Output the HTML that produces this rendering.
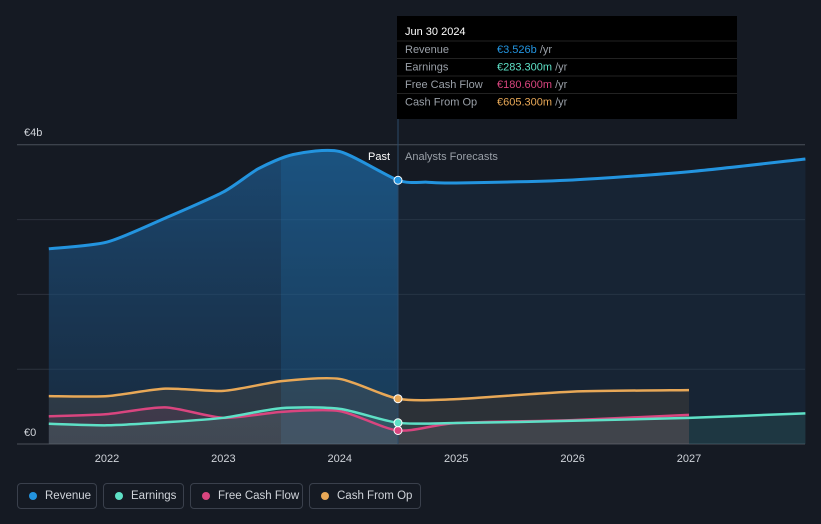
<!DOCTYPE html>
<html><head><meta charset="utf-8"><style>
body{margin:0;background:#151a23;width:821px;height:524px;overflow:hidden;font-family:"Liberation Sans",sans-serif;}
svg{position:absolute;left:0;top:0}
.leg{position:absolute;top:483px;height:26px;border:1px solid #3a404c;border-radius:4px;color:#d0d4da;font-size:11.5px;line-height:24px;box-sizing:border-box;padding-left:27px;white-space:nowrap}
.leg i{position:absolute;left:11px;top:8px;width:8px;height:8px;border-radius:50%}
</style></head><body>
<svg id="c" width="821" height="524">
<defs>
<clipPath id="pastClip"><rect x="0" y="0" width="398" height="524"/></clipPath>
<clipPath id="hiClip"><rect x="281" y="0" width="117" height="524"/></clipPath>
<clipPath id="futClip"><rect x="398" y="0" width="500" height="524"/></clipPath>
<linearGradient id="g" x1="0" y1="0" x2="0" y2="1"><stop offset="0" stop-color="#1e5c92" stop-opacity="0.7"/><stop offset="1" stop-color="#1a3a5a" stop-opacity="0.5"/></linearGradient>
</defs>
</svg>
<div class="leg" style="left:17px;width:80px"><i style="background:#2394df"></i>Revenue</div>
<div class="leg" style="left:103px;width:81px"><i style="background:#5ee0c6"></i>Earnings</div>
<div class="leg" style="left:190px;width:113px"><i style="background:#d9457f"></i>Free Cash Flow</div>
<div class="leg" style="left:309px;width:112px"><i style="background:#e8a857"></i>Cash From Op</div>
<script>
const revX=[2021.5,2022,2022.5,2023,2023.3,2023.6,2024,2024.5,2024.75,2025,2026,2027,2028];
const revenue=[2.61,2.70,3.02,3.37,3.68,3.87,3.91,3.526,3.50,3.49,3.53,3.64,3.81];
const cfoX=[2021.5,2022,2022.5,2023,2023.5,2024,2024.5,2025,2026,2027];
const cashFromOp=[0.64,0.64,0.74,0.71,0.84,0.87,0.6053,0.60,0.70,0.72];
const fcfX=[2021.5,2022,2022.5,2023,2023.5,2024,2024.5,2025,2026,2027];
const freeCashFlow=[0.37,0.40,0.49,0.35,0.43,0.44,0.1806,0.28,0.32,0.39];
const earnX=[2021.5,2022,2022.5,2023,2023.5,2024,2024.5,2025,2026,2027,2028];
const earnings=[0.27,0.25,0.29,0.35,0.48,0.47,0.2833,0.28,0.31,0.35,0.41];
const xTicks=[2022,2023,2024,2025,2026,2027];
const yTicks=[0,1,2,3,4];
const X=v=>107+(v-2022)*116.4;
const Y=v=>444-v*74.8;
const svg=document.getElementById('c');const NS='http://www.w3.org/2000/svg';
function add(tag,attrs,name,text){const e=document.createElementNS(NS,tag);for(const k in attrs)e.setAttribute(k,attrs[k]);


if(text!==undefined)e.textContent=text;svg.appendChild(e);return e;}
function path(xs,ys){let p=xs.map((x,i)=>[X(x),Y(ys[i])]);let d='M'+p[0][0]+','+p[0][1];
for(let i=0;i<p.length-1;i++){const p0=p[i-1]||p[i],p1=p[i],p2=p[i+1],p3=p[i+2]||p2;const k=8;
d+=` C${p1[0]+(p2[0]-p0[0])/k},${p1[1]+(p2[1]-p0[1])/k} ${p2[0]-(p3[0]-p1[0])/k},${p2[1]-(p3[1]-p1[1])/k} ${p2[0]},${p2[1]}`;}return d;}
const area=(xs,ys)=>path(xs,ys)+` L${X(xs[xs.length-1])},${Y(0)} L${X(xs[0])},${Y(0)} Z`;
yTicks.forEach(t=>{add('line',{x1:17,x2:805,y1:Y(t),y2:Y(t),stroke:t==0||t==4?'#4a505a':'#2c323d','stroke-width':1},'gridline');});
add('text',{x:24,y:Y(4)-9,fill:'#d0d4da','font-size':11},'y-label-top','€4b');
add('text',{x:24,y:Y(0)-8,fill:'#d0d4da','font-size':11},'y-label-zero','€0');
xTicks.forEach(t=>add('text',{x:X(t),y:462,fill:'#d0d4da','font-size':11,'text-anchor':'middle'},'x-tick-label',String(t)));
const ra=area(revX,revenue);
add('path',{d:ra,fill:'url(#g)','clip-path':'url(#pastClip)'},'revenue-area-past');
add('path',{d:ra,fill:'#2394df','fill-opacity':0.15,'clip-path':'url(#hiClip)'},'revenue-area-highlight');
add('path',{d:ra,fill:'#1c3a55','fill-opacity':0.35,'clip-path':'url(#futClip)'},'revenue-area-forecast');
const series=[[revX,revenue,'#2394df','revenue'],[cfoX,cashFromOp,'#e8a857','cash-from-op'],[fcfX,freeCashFlow,'#d9457f','free-cash-flow'],[earnX,earnings,'#5ee0c6','earnings']];
series.slice(1).forEach(([xs,ys,col,n])=>{add('path',{d:area(xs,ys),fill:col,'fill-opacity':0.1},n+'-area');});
series.forEach(([xs,ys,col,n])=>{add('path',{d:path(xs,ys),fill:'none',stroke:col,'stroke-width':n=='revenue'?3:2.5},n+'-line');});
add('line',{x1:X(2024.5),x2:X(2024.5),y1:16,y2:444,stroke:'#2a4a6a','stroke-width':1},'divider');
series.forEach(([xs,ys,col,n])=>{const i=xs.indexOf(2024.5);add('circle',{cx:X(2024.5),cy:Y(ys[i]),r:4,fill:col,stroke:'#fff','stroke-width':1},n+'-point');});
add('text',{x:X(2024.5)-8,y:160,fill:'#fff','font-size':11,'text-anchor':'end'},'past-label','Past');
add('text',{x:X(2024.5)+7,y:160,fill:'#9aa0a8','font-size':11},'forecast-label','Analysts Forecasts');
add('rect',{x:397,y:16,width:340,height:103,fill:'#000'},'tooltip');
add('text',{x:405,y:35,fill:'#fff','font-size':11},'tooltip-date','Jun 30 2024');
const tl=[['Revenue','€3.526b','#2394df'],['Earnings','€283.300m','#5ee0c6'],['Free Cash Flow','€180.600m','#d9457f'],['Cash From Op','€605.300m','#e8a857']];
tl.forEach((r,i)=>{const y=53+i*17.5;add('line',{x1:397,x2:737,y1:y-12,y2:y-12,stroke:'#222','stroke-width':1},'tooltip-sep');
add('text',{x:405,y:y,fill:'#9aa0a8','font-size':11},'tooltip-label',r[0]);
const t=add('text',{x:497,y:y,fill:r[2],'font-size':11},'tooltip-value',r[1]);
const s=document.createElementNS(NS,'tspan');s.setAttribute('fill','#9aa0a8');s.textContent=' /yr';t.appendChild(s);});
</script>
</body></html>
